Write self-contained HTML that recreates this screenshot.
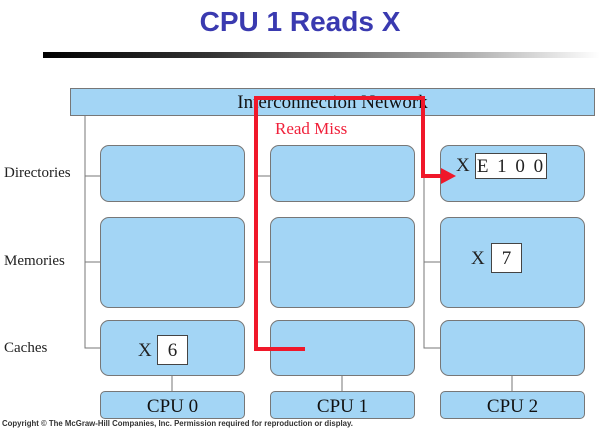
<!DOCTYPE html>
<html><head><style>
body{margin:0;width:600px;height:427px;background:#fff;overflow:hidden;position:relative;font-family:"Liberation Serif",serif}
.t{position:absolute;left:0;width:600px;text-align:center;top:6px;font:bold 28px "Liberation Sans",sans-serif;color:#3a3ab0}
.bar{position:absolute;left:43px;top:52px;width:557px;height:6px;background:linear-gradient(to right,#000 0%,#333 30%,#aaa 75%,#fff 100%)}
.b{position:absolute;background:#a3d5f5;border:1px solid #777;border-radius:9px;box-sizing:border-box}
.l{position:absolute;font-size:15px;color:#222;white-space:nowrap}
.w{position:absolute;background:#fff;border:1px solid #444;box-sizing:border-box;font-size:19px;text-align:center;color:#222;white-space:nowrap}
</style></head><body>
<div class="t">CPU 1 Reads X</div>
<div class="bar"></div>
<div class="b" style="left:70px;top:88px;width:525px;height:28px;border-radius:0;text-align:center;font-size:19px;line-height:28px;color:#111">Interconnection Network</div>
<svg style="position:absolute;left:0;top:0" width="600" height="427">
<g stroke="#777" stroke-width="1" fill="none">
<path d="M85 116V348H100M85 176H100M85 262H100"/>
<path d="M255 116V348H270M255 176H270M255 262H270"/>
<path d="M424 116V348H440M424 176H440M424 262H440"/>
<path d="M172 375V391M342 375V391M512 375V391"/>
</g>
</svg>
<div class="l" style="left:4px;top:165px">Directories</div>
<div class="l" style="left:4px;top:253px">Memories</div>
<div class="l" style="left:4px;top:340px">Caches</div>
<div class="b" style="left:100px;top:145px;width:145px;height:57px"></div>
<div class="b" style="left:270px;top:145px;width:145px;height:57px"></div>
<div class="b" style="left:440px;top:145px;width:145px;height:57px"></div>
<div class="b" style="left:100px;top:217px;width:145px;height:91px"></div>
<div class="b" style="left:270px;top:217px;width:145px;height:91px"></div>
<div class="b" style="left:440px;top:217px;width:145px;height:91px"></div>
<div class="b" style="left:100px;top:320px;width:145px;height:56px"></div>
<div class="b" style="left:270px;top:320px;width:145px;height:56px"></div>
<div class="b" style="left:440px;top:320px;width:145px;height:56px"></div>
<div class="b" style="left:100px;top:391px;width:145px;height:28px;border-radius:5px;text-align:center;font-size:19px;line-height:30px;color:#111">CPU 0</div>
<div class="b" style="left:270px;top:391px;width:145px;height:28px;border-radius:5px;text-align:center;font-size:19px;line-height:30px;color:#111">CPU 1</div>
<div class="b" style="left:440px;top:391px;width:145px;height:28px;border-radius:5px;text-align:center;font-size:19px;line-height:30px;color:#111">CPU 2</div>
<div class="l" style="left:456px;top:155px;font-size:19px">X</div>
<div class="w" style="left:475px;top:153px;width:72px;height:26px;line-height:25px;letter-spacing:2px">E 1 0 0</div>
<div class="l" style="left:471px;top:248px;font-size:19px">X</div>
<div class="w" style="left:491px;top:243px;width:31px;height:30px;line-height:30px">7</div>
<div class="l" style="left:138px;top:340px;font-size:19px">X</div>
<div class="w" style="left:157px;top:335px;width:31px;height:30px;line-height:30px">6</div>
<div class="l" style="left:275px;top:119px;font-size:17px;color:#f0203a">Read Miss</div>
<svg style="position:absolute;left:0;top:0" width="600" height="427">
<path d="M305 349H256V98H423V176H444" stroke="#f0182a" stroke-width="4" fill="none"/>
<path d="M441 168L456 176L441 184Z" fill="#f0182a"/>
</svg>
<div style="position:absolute;left:2px;top:419px;font:bold 7.8px 'Liberation Sans',sans-serif;color:#333;white-space:nowrap">Copyright © The McGraw-Hill Companies, Inc. Permission required for reproduction or display.</div>
</body></html>
